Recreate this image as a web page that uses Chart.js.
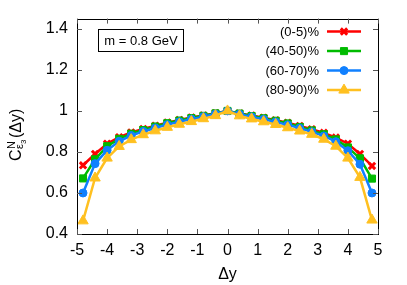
<!DOCTYPE html>
<html>
<head>
<meta charset="utf-8">
<script src="https://cdn.jsdelivr.net/npm/chart.js@4.4.0/dist/chart.umd.min.js"></script>
<style>
  html, body { margin: 0; padding: 0; background: #fff; }
  #wrap { width: 407px; height: 285px; position: relative; }
</style>
</head>
<body>
<div id="wrap"><canvas id="c" width="407" height="285"></canvas></div>
<script>
const xValues = [-4.8, -4.4, -4.0, -3.6, -3.2, -2.8, -2.4, -2.0, -1.6, -1.2, -0.8, -0.4, 0.0,
                 0.4, 0.8, 1.2, 1.6, 2.0, 2.4, 2.8, 3.2, 3.6, 4.0, 4.4, 4.8];
const central0_5 = [0.735, 0.790, 0.840, 0.872, 0.895, 0.912, 0.928, 0.943, 0.956, 0.968, 0.978, 0.989, 1.000,
                    0.988, 0.978, 0.967, 0.955, 0.942, 0.927, 0.911, 0.893, 0.870, 0.840, 0.790, 0.732];
const cent40_50 = [0.671, 0.764, 0.828, 0.864, 0.889, 0.907, 0.924, 0.940, 0.953, 0.965, 0.976, 0.988, 1.000,
                   0.987, 0.975, 0.964, 0.952, 0.939, 0.922, 0.905, 0.886, 0.861, 0.822, 0.769, 0.670];
const cent60_70 = [0.600, 0.743, 0.808, 0.852, 0.880, 0.900, 0.917, 0.933, 0.947, 0.960, 0.972, 0.985, 1.000,
                   0.984, 0.971, 0.959, 0.946, 0.932, 0.916, 0.898, 0.878, 0.850, 0.806, 0.740, 0.600];
const cent80_90 = [0.464, 0.673, 0.770, 0.827, 0.860, 0.884, 0.903, 0.920, 0.935, 0.948, 0.962, 0.977, 1.000,
                   0.976, 0.961, 0.947, 0.934, 0.918, 0.902, 0.886, 0.862, 0.828, 0.770, 0.676, 0.468];
const seriesLabels = ['(0-5)%', '(40-50)%', '(60-70)%', '(80-90)%'];
const xTickValues = [-5, -4, -3, -2, -1, 0, 1, 2, 3, 4, 5];
const yTickValues = [0.4, 0.6, 0.8, 1.0, 1.2, 1.4];
const annotationText = 'm = 0.8 GeV';

const FONT = '"Liberation Sans", Arial, Helvetica, sans-serif';
const colors = ['#ff0000', '#00bb00', '#1080ff', '#ffc020'];
const shapes = ['crossRot', 'rect', 'circle', 'triangle'];
const radii = [4.5, 5, 4, 6];
const seriesData = [central0_5, cent40_50, cent60_70, cent80_90];

const datasets = seriesData.map((arr, i) => ({
  label: seriesLabels[i],
  data: arr.map((v, j) => ({ x: xValues[j], y: v })),
  borderColor: colors[i],
  backgroundColor: colors[i],
  pointBackgroundColor: colors[i],
  pointBorderColor: colors[i],
  pointStyle: shapes[i],
  pointRadius: radii[i],
  pointBorderWidth: shapes[i] === 'crossRot' ? 3 : 1,
  borderWidth: 2.5,
  tension: 0,
  fill: false,
  order: 4 - i,
  clip: false
}));

const framePlugin = {
  id: 'frame',
  afterDraw(chart) {
    const ctx = chart.ctx;
    const a = chart.chartArea;
    const xs = chart.scales.x, ys = chart.scales.y;
    ctx.save();
    // border box
    ctx.strokeStyle = '#000';
    ctx.lineWidth = 1;
    ctx.strokeRect(Math.round(a.left) + 0.5, Math.round(a.top) + 0.5,
                   Math.round(a.right - a.left), Math.round(a.bottom - a.top));
    // inner ticks on all sides
    const tl = 5;
    ctx.strokeStyle = '#555';
    ctx.beginPath();
    xTickValues.forEach(v => {
      const px = Math.round(xs.getPixelForValue(v)) + 0.5;
      ctx.moveTo(px, a.bottom); ctx.lineTo(px, a.bottom - tl);
      ctx.moveTo(px, a.top); ctx.lineTo(px, a.top + tl);
    });
    yTickValues.forEach(v => {
      const py = Math.round(ys.getPixelForValue(v)) + 0.5;
      ctx.moveTo(a.left, py); ctx.lineTo(a.left + tl, py);
      ctx.moveTo(a.right, py); ctx.lineTo(a.right - tl, py);
    });
    ctx.stroke();

    // annotation box
    ctx.fillStyle = '#000';
    ctx.font = '13px ' + FONT;
    const tw = ctx.measureText(annotationText).width;
    const bx = Math.round(a.left + 21) + 0.5, by = Math.round(a.top + 10) + 0.5;
    const bw = Math.round(tw + 12), bh = 22;
    ctx.strokeStyle = '#000';
    ctx.lineWidth = 1;
    ctx.strokeRect(bx, by, bw, bh);
    ctx.textAlign = 'center';
    ctx.textBaseline = 'middle';
    ctx.fillText(annotationText, bx + bw / 2, by + bh / 2 + 0.5);

    // legend
    const legTextRight = a.right - 59;
    const lineX0 = a.right - 51, lineX1 = a.right - 17;
    const rowY0 = a.top + 13, rowStep = 19.5;
    chart.data.datasets.forEach((ds, i) => {
      const y = rowY0 + i * rowStep;
      ctx.fillStyle = '#000';
      ctx.font = '13px ' + FONT;
      ctx.textAlign = 'right';
      ctx.textBaseline = 'middle';
      ctx.fillText(ds.label, legTextRight, y + 0.5);
      ctx.strokeStyle = ds.borderColor;
      ctx.lineWidth = ds.borderWidth;
      ctx.beginPath();
      ctx.moveTo(lineX0, y); ctx.lineTo(lineX1, y);
      ctx.stroke();
      ctx.fillStyle = ds.backgroundColor;
      ctx.lineWidth = ds.pointBorderWidth;
      Chart.helpers.drawPoint(ctx, {
        pointStyle: ds.pointStyle, radius: ds.pointRadius, borderWidth: ds.pointBorderWidth, rotation: 0
      }, (lineX0 + lineX1) / 2, y);
    });

    // x title
    ctx.fillStyle = '#000';
    ctx.font = '16px ' + FONT;
    ctx.textAlign = 'center';
    ctx.textBaseline = 'middle';
    ctx.fillText('Δy', (a.left + a.right) / 2, 275);

    // y title (rotated): C^N_{ε3}(Δy)
    ctx.save();
    ctx.translate(21, 161);
    ctx.rotate(-Math.PI / 2);
    ctx.textAlign = 'left';
    ctx.textBaseline = 'alphabetic';
    ctx.font = '16px ' + FONT;
    ctx.fillText('C', 0, 0);
    const cw = ctx.measureText('C').width;
    ctx.font = '11px ' + FONT;
    ctx.fillText('N', cw + 0.5, -6);
    const nw = ctx.measureText('N').width;
    ctx.fillText('ε', cw + 0.5, 2);
    const ew = ctx.measureText('ε').width;
    ctx.font = '8px ' + FONT;
    ctx.fillText('3', cw + 0.5 + ew, 4.5);
    const w3 = ctx.measureText('3').width;
    const subEnd = Math.max(cw + 0.5 + nw, cw + 0.5 + ew + w3);
    ctx.font = '16px ' + FONT;
    ctx.fillText('(Δy)', subEnd + 1.5, 0);
    ctx.restore();

    ctx.restore();
  }
};

new Chart(document.getElementById('c'), {
  type: 'line',
  data: { datasets },
  options: {
    responsive: false,
    animation: false,
    devicePixelRatio: 1,
    layout: { padding: { top: 16, right: 29, left: 0, bottom: 0 } },
    plugins: { legend: { display: false }, tooltip: { enabled: false } },
    scales: {
      x: {
        type: 'linear', min: -5, max: 5,
        afterBuildTicks: s => { s.ticks = xTickValues.map(v => ({ value: v })); },
        afterFit: s => { s.height = 51; },
        grid: { display: false, drawTicks: false },
        border: { display: false },
        ticks: { color: '#000', font: { family: FONT, size: 16 }, padding: 7, maxRotation: 0,
                 callback: v => String(v) }
      },
      y: {
        type: 'linear', min: 0.4, max: 1.45,
        afterBuildTicks: s => { s.ticks = yTickValues.map(v => ({ value: v })); },
        afterFit: s => { s.width = 77; },
        grid: { display: false, drawTicks: false },
        border: { display: false },
        ticks: { color: '#000', font: { family: FONT, size: 16 }, padding: 9,
                 callback: v => String(+v.toFixed(1)) }
      }
    }
  },
  plugins: [framePlugin]
});
</script>
</body>
</html>
